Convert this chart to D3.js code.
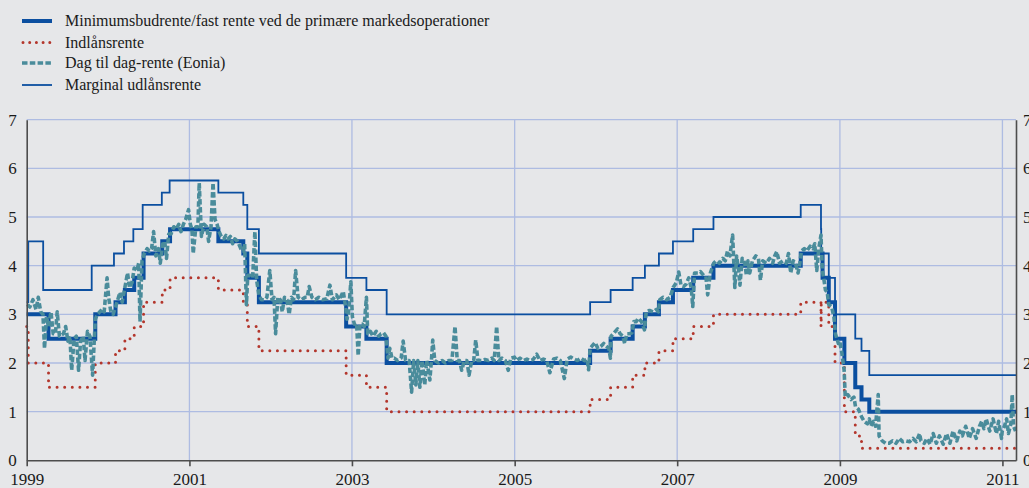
<!DOCTYPE html>
<html>
<head>
<meta charset="utf-8">
<script src="https://cdn.jsdelivr.net/npm/d3@7"></script>
<style>
  html, body { margin: 0; padding: 0; background: #e6e7e9; }
  svg { display: block; font-family: "Liberation Serif", "Times New Roman", serif; }
</style>
</head>
<body>
<svg width="1029" height="488"></svg>
<script>
// ECB policy rates (step series: date of change, new rate)
const mro = [
  ["1999-01-01", 3.00], ["1999-04-09", 2.50], ["1999-11-05", 3.00], ["2000-02-04", 3.25],
  ["2000-03-17", 3.50], ["2000-04-28", 3.75], ["2000-06-09", 4.25], ["2000-09-01", 4.50],
  ["2000-10-06", 4.75], ["2001-05-11", 4.50], ["2001-08-31", 4.25], ["2001-09-18", 3.75],
  ["2001-11-09", 3.25], ["2002-12-06", 2.75], ["2003-03-07", 2.50], ["2003-06-06", 2.00],
  ["2005-12-06", 2.25], ["2006-03-08", 2.50], ["2006-06-15", 2.75], ["2006-08-09", 3.00],
  ["2006-10-11", 3.25], ["2006-12-13", 3.50], ["2007-03-14", 3.75], ["2007-06-13", 4.00],
  ["2008-07-09", 4.25], ["2008-10-15", 3.75], ["2008-11-12", 3.25], ["2008-12-10", 2.50],
  ["2009-01-21", 2.00], ["2009-03-11", 1.50], ["2009-04-08", 1.25], ["2009-05-13", 1.00]
];

const deposit = [
  ["1999-01-01", 2.75], ["1999-01-08", 2.00], ["1999-04-09", 1.50], ["1999-11-05", 2.00],
  ["2000-02-04", 2.25], ["2000-03-17", 2.50], ["2000-04-28", 2.75], ["2000-06-09", 3.25],
  ["2000-09-01", 3.50], ["2000-10-06", 3.75], ["2001-05-11", 3.50], ["2001-08-31", 3.25],
  ["2001-09-18", 2.75], ["2001-11-09", 2.25], ["2002-12-06", 1.75], ["2003-03-07", 1.50],
  ["2003-06-06", 1.00], ["2005-12-06", 1.25], ["2006-03-08", 1.50], ["2006-06-15", 1.75],
  ["2006-08-09", 2.00], ["2006-10-11", 2.25], ["2006-12-13", 2.50], ["2007-03-14", 2.75],
  ["2007-06-13", 3.00], ["2008-07-09", 3.25], ["2008-10-08", 2.75], ["2008-10-09", 3.25],
  ["2008-11-12", 2.75], ["2008-12-10", 2.00], ["2009-01-21", 1.00], ["2009-03-11", 0.50],
  ["2009-04-08", 0.25]
];

const marginal = [
  ["1999-01-01", 3.25], ["1999-01-08", 4.50], ["1999-03-16", 3.50], ["1999-10-20", 4.00],
  ["2000-01-28", 4.25], ["2000-03-13", 4.50], ["2000-04-24", 4.75], ["2000-06-05", 5.25],
  ["2000-08-30", 5.50], ["2000-10-04", 5.75], ["2001-05-11", 5.50], ["2001-08-31", 5.25],
  ["2001-09-18", 4.75], ["2001-11-09", 4.25], ["2002-12-06", 3.75], ["2003-03-07", 3.50],
  ["2003-06-06", 3.00], ["2005-12-06", 3.25], ["2006-03-08", 3.50], ["2006-06-15", 3.75],
  ["2006-08-09", 4.00], ["2006-10-11", 4.25], ["2006-12-13", 4.50], ["2007-03-14", 4.75],
  ["2007-06-13", 5.00], ["2008-07-09", 5.25], ["2008-10-08", 4.75], ["2008-10-09", 4.25],
  ["2008-11-12", 3.75], ["2008-12-10", 3.00], ["2009-03-11", 2.50], ["2009-04-08", 2.25],
  ["2009-05-13", 1.75]
];

// Overnight rate (Eonia)
const eonia = [
  ["1999-01-04", 3.20], ["1999-01-15", 3.15], ["1999-01-29", 3.30], ["1999-02-12", 3.10],
  ["1999-02-22", 3.35], ["1999-03-05", 3.05], ["1999-03-15", 3.00], ["1999-03-22", 2.30],
  ["1999-03-31", 2.95], ["1999-04-09", 2.75], ["1999-04-20", 3.05], ["1999-04-30", 2.60],
  ["1999-05-10", 2.60], ["1999-05-18", 3.05], ["1999-05-28", 2.55], ["1999-06-15", 2.60],
  ["1999-06-25", 2.75], ["1999-07-05", 2.45], ["1999-07-14", 2.55], ["1999-07-22", 1.85],
  ["1999-08-02", 2.50], ["1999-08-12", 2.55], ["1999-08-22", 1.85], ["1999-08-31", 2.45],
  ["1999-09-12", 2.55], ["1999-09-20", 2.05], ["1999-10-01", 2.65], ["1999-10-12", 2.55],
  ["1999-10-24", 1.75], ["1999-11-05", 2.90], ["1999-11-15", 3.00], ["1999-11-25", 3.05],
  ["1999-12-06", 3.10], ["1999-12-15", 3.05], ["1999-12-28", 3.75], ["2000-01-04", 3.35],
  ["2000-01-14", 3.05], ["2000-01-24", 3.00], ["2000-02-04", 3.15], ["2000-02-14", 3.30],
  ["2000-02-24", 3.45], ["2000-03-05", 3.25], ["2000-03-17", 3.55], ["2000-03-29", 3.85],
  ["2000-04-07", 3.55], ["2000-04-18", 3.65], ["2000-04-28", 3.95], ["2000-05-10", 3.90],
  ["2000-05-18", 4.05], ["2000-05-24", 2.85], ["2000-06-02", 4.10], ["2000-06-12", 4.25],
  ["2000-06-25", 4.35], ["2000-07-05", 4.30], ["2000-07-15", 4.35], ["2000-07-24", 4.70],
  ["2000-08-03", 4.20], ["2000-08-15", 4.35], ["2000-08-23", 4.05], ["2000-09-03", 4.45],
  ["2000-09-12", 4.50], ["2000-09-20", 4.15], ["2000-09-30", 4.65], ["2000-10-10", 4.65],
  ["2000-10-23", 4.80], ["2000-11-03", 4.75], ["2000-11-14", 4.85], ["2000-11-24", 4.70],
  ["2000-12-05", 4.85], ["2000-12-15", 4.95], ["2000-12-28", 5.15], ["2001-01-05", 4.85],
  ["2001-01-12", 4.75], ["2001-01-18", 4.25], ["2001-01-30", 4.80], ["2001-02-08", 4.80],
  ["2001-02-14", 5.70], ["2001-02-24", 4.60], ["2001-03-08", 4.85], ["2001-03-20", 4.80],
  ["2001-03-28", 4.50], ["2001-04-08", 4.80], ["2001-04-17", 5.70], ["2001-04-26", 4.95],
  ["2001-05-05", 4.85], ["2001-05-14", 4.70], ["2001-05-24", 4.60], ["2001-06-04", 4.55],
  ["2001-06-14", 4.62], ["2001-06-24", 4.55], ["2001-07-04", 4.60], ["2001-07-14", 4.45],
  ["2001-07-24", 4.55], ["2001-08-05", 4.50], ["2001-08-20", 4.35], ["2001-08-31", 4.30],
  ["2001-09-06", 4.45], ["2001-09-14", 3.20], ["2001-09-20", 3.80], ["2001-10-01", 3.80],
  ["2001-10-12", 3.75], ["2001-10-22", 4.70], ["2001-10-30", 3.70], ["2001-11-09", 3.40],
  ["2001-11-20", 3.30], ["2001-12-05", 3.30], ["2001-12-15", 3.35], ["2001-12-28", 3.90],
  ["2002-01-07", 3.30], ["2002-01-16", 3.35], ["2002-01-23", 2.60], ["2002-02-02", 3.35],
  ["2002-02-13", 3.30], ["2002-02-22", 3.05], ["2002-03-04", 3.35], ["2002-03-15", 3.30],
  ["2002-03-25", 3.00], ["2002-04-04", 3.35], ["2002-04-14", 3.30], ["2002-04-23", 3.90],
  ["2002-05-04", 3.35], ["2002-05-20", 3.30], ["2002-06-05", 3.35], ["2002-06-14", 3.35],
  ["2002-06-23", 3.57], ["2002-07-05", 3.35], ["2002-07-20", 3.30], ["2002-08-05", 3.35],
  ["2002-08-22", 3.30], ["2002-09-10", 3.32], ["2002-09-24", 3.60], ["2002-10-05", 3.30],
  ["2002-10-23", 3.40], ["2002-11-05", 3.30], ["2002-11-23", 3.47], ["2002-12-02", 3.20],
  ["2002-12-10", 2.90], ["2002-12-17", 3.05], ["2002-12-27", 3.67], ["2003-01-03", 2.95],
  ["2003-01-12", 2.80], ["2003-01-22", 2.82], ["2003-01-29", 2.15], ["2003-02-06", 2.80],
  ["2003-02-16", 2.80], ["2003-02-25", 2.75], ["2003-03-07", 3.35], ["2003-03-13", 2.60],
  ["2003-03-25", 2.65], ["2003-04-05", 2.55], ["2003-04-20", 2.65], ["2003-05-01", 2.55],
  ["2003-05-12", 2.60], ["2003-05-23", 2.62], ["2003-06-03", 2.55], ["2003-06-12", 2.10],
  ["2003-06-20", 2.30], ["2003-06-30", 2.10], ["2003-07-10", 2.10], ["2003-07-25", 2.05],
  ["2003-08-10", 2.10], ["2003-08-19", 2.45], ["2003-08-30", 2.05], ["2003-09-15", 2.05],
  ["2003-09-26", 1.40], ["2003-10-05", 2.05], ["2003-10-15", 1.55], ["2003-10-24", 2.05],
  ["2003-11-02", 1.50], ["2003-11-12", 2.05], ["2003-11-24", 1.55], ["2003-12-03", 2.05],
  ["2003-12-17", 1.65], ["2003-12-24", 2.05], ["2003-12-30", 2.47], ["2004-01-08", 2.05],
  ["2004-01-25", 2.00], ["2004-02-10", 2.05], ["2004-02-25", 2.00], ["2004-03-10", 2.05],
  ["2004-03-25", 2.05], ["2004-04-08", 2.75], ["2004-04-18", 2.05], ["2004-04-28", 2.05],
  ["2004-05-08", 1.85], ["2004-05-20", 2.05], ["2004-05-31", 2.05], ["2004-06-10", 1.75],
  ["2004-06-22", 2.05], ["2004-07-01", 2.05], ["2004-07-10", 2.47], ["2004-07-20", 2.05],
  ["2004-08-05", 2.05], ["2004-08-20", 2.07], ["2004-09-05", 2.05], ["2004-09-20", 2.10],
  ["2004-10-01", 2.05], ["2004-10-12", 2.75], ["2004-10-22", 2.05], ["2004-11-05", 2.10],
  ["2004-11-20", 2.05], ["2004-12-03", 1.85], ["2004-12-15", 2.10], ["2004-12-31", 2.12],
  ["2005-01-10", 2.05], ["2005-01-25", 2.10], ["2005-02-10", 2.05], ["2005-02-25", 2.08],
  ["2005-03-10", 2.05], ["2005-03-25", 2.07], ["2005-04-10", 2.18], ["2005-04-25", 2.05],
  ["2005-05-10", 2.08], ["2005-05-25", 2.05], ["2005-06-08", 1.80], ["2005-06-25", 2.08],
  ["2005-07-10", 2.10], ["2005-07-25", 2.05], ["2005-08-12", 1.68], ["2005-08-25", 2.08],
  ["2005-09-10", 2.12], ["2005-09-25", 2.08], ["2005-10-10", 2.05], ["2005-10-25", 2.10],
  ["2005-11-10", 2.05], ["2005-11-22", 2.08], ["2005-11-29", 1.86], ["2005-12-06", 2.30],
  ["2005-12-15", 2.35], ["2005-12-28", 2.42], ["2006-01-10", 2.30], ["2006-01-25", 2.35],
  ["2006-02-05", 2.40], ["2006-02-15", 2.35], ["2006-02-28", 2.30], ["2006-03-07", 2.10],
  ["2006-03-10", 2.55], ["2006-03-20", 2.60], ["2006-04-08", 2.70], ["2006-04-20", 2.60],
  ["2006-05-02", 2.55], ["2006-05-10", 2.40], ["2006-05-20", 2.60], ["2006-06-01", 2.60],
  ["2006-06-12", 2.62], ["2006-06-20", 2.85], ["2006-07-01", 2.85], ["2006-07-10", 2.92],
  ["2006-07-25", 2.85], ["2006-08-07", 2.68], ["2006-08-15", 3.05], ["2006-08-30", 3.08],
  ["2006-09-15", 3.05], ["2006-09-30", 3.10], ["2006-10-09", 3.05], ["2006-10-15", 3.30],
  ["2006-10-30", 3.35], ["2006-11-15", 3.30], ["2006-11-30", 3.35], ["2006-12-14", 3.55],
  ["2006-12-28", 3.65], ["2007-01-08", 3.87], ["2007-01-18", 3.60], ["2007-01-30", 3.57],
  ["2007-02-10", 3.62], ["2007-02-22", 3.75], ["2007-03-05", 3.55], ["2007-03-12", 3.16],
  ["2007-03-20", 3.85], ["2007-04-05", 3.85], ["2007-04-15", 3.88], ["2007-04-30", 3.80],
  ["2007-05-10", 3.78], ["2007-05-18", 3.40], ["2007-05-30", 3.85], ["2007-06-14", 4.05],
  ["2007-06-25", 4.10], ["2007-07-10", 4.05], ["2007-07-25", 4.15], ["2007-08-05", 4.10],
  ["2007-08-15", 4.30], ["2007-08-26", 4.20], ["2007-09-07", 4.63], ["2007-09-12", 4.10],
  ["2007-09-17", 3.55], ["2007-09-25", 4.20], ["2007-10-04", 3.90], ["2007-10-10", 3.60],
  ["2007-10-20", 4.15], ["2007-11-01", 4.05], ["2007-11-08", 3.80], ["2007-11-15", 4.10],
  ["2007-11-23", 3.85], ["2007-12-05", 4.10], ["2007-12-20", 4.20], ["2008-01-01", 4.15],
  ["2008-01-10", 3.70], ["2008-01-20", 4.10], ["2008-02-05", 4.05], ["2008-02-20", 4.15],
  ["2008-03-05", 4.05], ["2008-03-14", 4.20], ["2008-03-23", 4.29], ["2008-04-05", 4.05],
  ["2008-04-20", 4.10], ["2008-05-05", 4.05], ["2008-05-15", 4.25], ["2008-05-25", 3.85],
  ["2008-06-05", 4.10], ["2008-06-15", 4.05], ["2008-06-27", 3.85], ["2008-07-05", 4.05],
  ["2008-07-12", 4.30], ["2008-07-25", 4.35], ["2008-08-05", 4.30], ["2008-08-20", 4.40],
  ["2008-09-01", 4.35], ["2008-09-10", 4.45], ["2008-09-19", 3.90], ["2008-09-28", 4.35],
  ["2008-10-08", 4.63], ["2008-10-14", 3.90], ["2008-10-20", 3.75], ["2008-10-28", 3.50],
  ["2008-11-05", 3.45], ["2008-11-12", 3.20], ["2008-11-25", 3.15], ["2008-12-05", 2.95],
  ["2008-12-12", 2.60], ["2008-12-25", 2.40], ["2008-12-31", 2.45], ["2009-01-10", 2.20],
  ["2009-01-20", 1.85], ["2009-01-25", 1.30], ["2009-02-05", 1.35], ["2009-02-20", 1.25],
  ["2009-03-05", 1.30], ["2009-03-12", 1.10], ["2009-03-25", 1.05], ["2009-04-08", 0.90],
  ["2009-04-20", 0.80], ["2009-05-05", 0.75], ["2009-05-13", 0.85], ["2009-05-20", 0.70],
  ["2009-06-01", 0.80], ["2009-06-10", 0.70], ["2009-06-22", 1.35], ["2009-06-26", 0.50],
  ["2009-07-10", 0.40], ["2009-07-25", 0.35], ["2009-08-10", 0.35], ["2009-08-25", 0.40],
  ["2009-09-10", 0.35], ["2009-09-25", 0.45], ["2009-10-10", 0.38], ["2009-10-25", 0.40],
  ["2009-11-10", 0.38], ["2009-11-25", 0.45], ["2009-12-10", 0.38], ["2009-12-25", 0.55],
  ["2009-12-31", 0.40], ["2010-01-15", 0.35], ["2010-01-27", 0.45], ["2010-02-10", 0.33],
  ["2010-02-24", 0.55], ["2010-03-10", 0.35], ["2010-03-24", 0.50], ["2010-04-10", 0.33],
  ["2010-04-25", 0.55], ["2010-05-10", 0.35], ["2010-05-24", 0.60], ["2010-06-10", 0.40],
  ["2010-06-24", 0.60], ["2010-07-05", 0.50], ["2010-07-20", 0.70], ["2010-08-05", 0.45],
  ["2010-08-20", 0.65], ["2010-09-05", 0.45], ["2010-09-20", 0.70], ["2010-09-30", 0.80],
  ["2010-10-10", 0.65], ["2010-10-20", 0.85], ["2010-11-05", 0.60], ["2010-11-20", 0.85],
  ["2010-12-05", 0.55], ["2010-12-15", 0.80], ["2010-12-28", 0.45], ["2010-12-31", 0.60],
  ["2011-01-10", 0.70], ["2011-01-20", 0.85], ["2011-01-28", 0.55], ["2011-02-08", 0.75],
  ["2011-02-14", 1.35], ["2011-02-20", 0.70], ["2011-03-01", 0.60]
];

const yTicks = [0, 1, 2, 3, 4, 5, 6, 7];
const yearTicks = ["1999", "2001", "2003", "2005", "2007", "2009", "2011"];
const endDate = "2011-03-03";

const legendLabels = [
  "Minimumsbudrente/fast rente ved de primære markedsoperationer",
  "Indlånsrente",
  "Dag til dag-rente (Eonia)",
  "Marginal udlånsrente"
];

const blue = "#0b4fa0";
const red = "#b3362c";
const teal = "#4a8c9b";
const grid = "#aebce2";
const axisCol = "#4d4d4d";
const font = "Liberation Serif, Times New Roman, serif";

const svg = d3.select("svg");
const parse = d3.timeParse("%Y-%m-%d");
const margin = { left: 26.7, right: 1016, top: 119.7, bottom: 460.3 };

const x = d3.scaleTime()
  .domain([parse("1999-01-01"), parse(endDate)])
  .range([margin.left, margin.right]);
const y = d3.scaleLinear().domain([0, 7]).range([margin.bottom, margin.top]);

// gridlines
svg.append("g").selectAll("line").data(yTicks.slice(1)).join("line")
  .attr("x1", margin.left).attr("x2", margin.right)
  .attr("y1", d => y(d)).attr("y2", d => y(d))
  .attr("stroke", grid).attr("stroke-width", 1.3);

svg.append("g").selectAll("line").data(yearTicks.slice(1)).join("line")
  .attr("x1", d => x(parse(d + "-01-01"))).attr("x2", d => x(parse(d + "-01-01")))
  .attr("y1", margin.top).attr("y2", margin.bottom)
  .attr("stroke", grid).attr("stroke-width", 1.3);

// series
const stepSeries = arr => {
  const pts = arr.map(d => [parse(d[0]), d[1]]);
  pts.push([parse(endDate), arr[arr.length - 1][1]]);
  return pts;
};
const stepLine = d3.line().x(d => x(d[0])).y(d => y(d[1])).curve(d3.curveStepAfter);
const plainLine = d3.line().x(d => x(d[0])).y(d => y(d[1]));

const plot = svg.append("g");

plot.append("path").datum(stepSeries(deposit))
  .attr("d", stepLine).attr("fill", "none")
  .attr("stroke", red).attr("stroke-width", 3)
  .attr("stroke-linecap", "round").attr("stroke-dasharray", "0 7.6");

plot.append("path").datum(stepSeries(marginal))
  .attr("d", stepLine).attr("fill", "none")
  .attr("stroke", blue).attr("stroke-width", 1.8);

plot.append("path").datum(stepSeries(mro))
  .attr("d", stepLine).attr("fill", "none")
  .attr("stroke", blue).attr("stroke-width", 4);

plot.append("path").datum(eonia.map(d => [parse(d[0]), d[1]]))
  .attr("d", plainLine).attr("fill", "none")
  .attr("stroke", teal).attr("stroke-width", 3.6)
  .attr("stroke-dasharray", "5.5 2.5").attr("stroke-linejoin", "round");

// axes
const xAxis = d3.axisBottom(x)
  .tickValues(yearTicks.map(d => parse(d + "-01-01")))
  .tickFormat(d3.timeFormat("%Y"))
  .tickSize(6).tickPadding(7).tickSizeOuter(0);
const xg = svg.append("g").attr("transform", `translate(0,${margin.bottom})`).call(xAxis);
xg.select(".domain").attr("stroke", axisCol).attr("stroke-width", 1.6);
xg.selectAll(".tick line").attr("stroke", axisCol).attr("stroke-width", 1.6);
xg.selectAll("text").attr("font-size", 17).attr("fill", "#1a1a1a").attr("font-family", font);

const yAxis = d3.axisLeft(y).tickValues(yTicks).tickFormat(d3.format("d"))
  .tickSize(0).tickPadding(10);
const yg = svg.append("g").attr("transform", `translate(${margin.left},0)`).call(yAxis);
yg.select(".domain").attr("stroke", axisCol).attr("stroke-width", 1.6);
yg.selectAll("text").attr("font-size", 17).attr("fill", "#1a1a1a").attr("font-family", font);

const yAxisR = d3.axisRight(y).tickValues(yTicks).tickFormat(d3.format("d"))
  .tickSize(0).tickPadding(7);
const yr = svg.append("g").attr("transform", `translate(${margin.right},0)`).call(yAxisR);
yr.select(".domain").attr("stroke", axisCol).attr("stroke-width", 1.6);
yr.selectAll("text").attr("font-size", 17).attr("fill", "#1a1a1a").attr("font-family", font);

// legend
const legendY = [21, 42.5, 63, 85];
const legend = svg.append("g");
const legendStyles = [
  { stroke: blue, width: 4, dash: null, cap: "butt" },
  { stroke: red, width: 3, dash: "0 6.7", cap: "round" },
  { stroke: teal, width: 3.6, dash: "5.5 2.3", cap: "butt" },
  { stroke: blue, width: 1.8, dash: null, cap: "butt" }
];
legendLabels.forEach((label, i) => {
  const st = legendStyles[i];
  legend.append("line")
    .attr("x1", i === 1 ? 23 : 22).attr("x2", 52)
    .attr("y1", legendY[i]).attr("y2", legendY[i])
    .attr("stroke", st.stroke).attr("stroke-width", st.width)
    .attr("stroke-dasharray", st.dash).attr("stroke-linecap", st.cap);
  legend.append("text")
    .attr("x", 65).attr("y", legendY[i]).attr("dy", "0.33em")
    .attr("font-size", 16).attr("font-family", font).attr("fill", "#1a1a1a")
    .text(label);
});
</script>
</body>
</html>
